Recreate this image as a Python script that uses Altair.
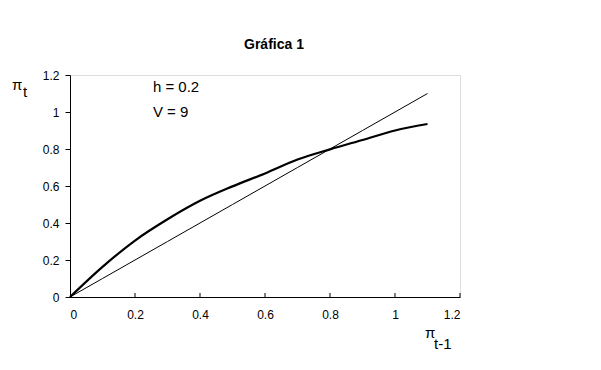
import altair as alt
import pandas as pd

# Data
x_vals = [0.0, 0.1, 0.2, 0.3, 0.4, 0.5, 0.6, 0.7, 0.8, 0.9, 1.0, 1.1]
curve_vals = [0.0, 0.163, 0.305, 0.42, 0.52, 0.598, 0.668, 0.743, 0.798, 0.849, 0.9, 0.935]
diag_vals = [0.0, 0.1, 0.2, 0.3, 0.4, 0.5, 0.6, 0.7, 0.8, 0.9, 1.0, 1.1]
x_ticks = [0.2, 0.4, 0.6, 0.8, 1.0, 1.2]
x_labels = [0, 0.2, 0.4, 0.6, 0.8, 1.0, 1.2]
y_ticks = [0, 0.2, 0.4, 0.6, 0.8, 1.0, 1.2]
annot_text = ["h = 0.2", "V = 9"]
annot_x = [0.255, 0.255]
annot_y = [1.135, 1.0]

FONT = "Liberation Sans"
W, H = 390, 222

df = pd.DataFrame({"x": x_vals, "curve": curve_vals, "diag": diag_vals})
ann = pd.DataFrame({"t": annot_text, "x": annot_x, "y": annot_y})
ticks = pd.DataFrame({"x": x_ticks})

xs = alt.Scale(domain=[0, 1.2], nice=False)
ys = alt.Scale(domain=[0, 1.2], nice=False)

xaxis = alt.Axis(values=x_labels, format="~g", ticks=False,
                 grid=False, labelPadding=12, labelFont=FONT, labelFontSize=12,
                 labelOverlap=False, labelColor="black", domainColor="black", title=None)
yaxis = alt.Axis(values=y_ticks, format="~g", tickSize=5, tickColor="black",
                 grid=False, labelPadding=6, labelFont=FONT, labelFontSize=12,
                 labelOverlap=False, labelColor="black", domainColor="black", title=None)

base = alt.Chart(df)

curve = base.mark_line(color="black", strokeWidth=2.2, interpolate="monotone").encode(
    x=alt.X("x:Q", scale=xs, axis=xaxis),
    y=alt.Y("curve:Q", scale=ys, axis=yaxis),
)
diag = base.mark_line(color="black", strokeWidth=1).encode(
    x=alt.X("x:Q", scale=xs, axis=xaxis),
    y=alt.Y("diag:Q", scale=ys, axis=yaxis),
)
xt = alt.Chart(ticks).mark_rule(color="black", strokeWidth=1).encode(
    x=alt.X("x:Q", scale=xs, axis=xaxis),
    y=alt.datum(0, scale=ys, axis=yaxis),
    y2=alt.value(H - 4),
)
annot = alt.Chart(ann).mark_text(align="left", baseline="middle", font=FONT,
                                 fontSize=15, color="black").encode(
    x=alt.X("x:Q", scale=xs, axis=xaxis),
    y=alt.Y("y:Q", scale=ys, axis=yaxis),
    text="t:N",
)

def label(txt, px, py, size, weight="normal", align="left"):
    return alt.Chart(pd.DataFrame({"t": [txt]})).mark_text(
        align=align, baseline="alphabetic", font=FONT, fontSize=size,
        fontWeight=weight, color="black"
    ).encode(x=alt.value(px), y=alt.value(py), text="t:N")

labels = [
    label("Gráfica 1", 204, -26, 14, weight="bold", align="center"),
    label("π", -58, 15, 15),
    label("t", -47, 22, 15),
    label("π", 355, 263, 15),
    label("t-1", 364, 274, 15),
]

chart = alt.layer(curve, diag, xt, annot, *labels).properties(
    width=W, height=H,
    autosize=alt.AutoSizeParams(type="none"),
    padding={"left": 62, "top": 67, "right": 120, "bottom": 60},
).configure_view(stroke=None).configure(background="white")

chart.save("out.html", embed_options={"renderer": "svg", "actions": False})
